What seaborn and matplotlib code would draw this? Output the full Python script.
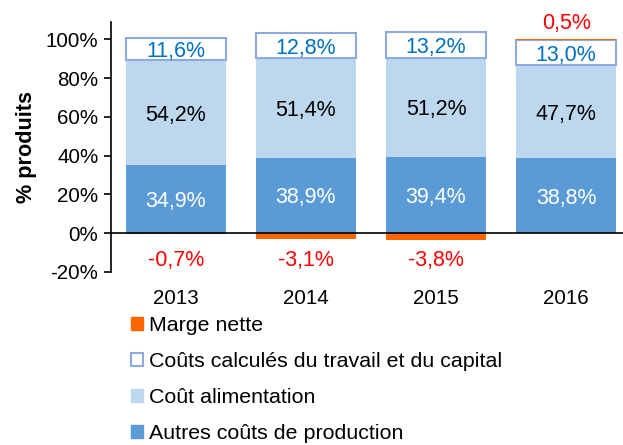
import matplotlib
matplotlib.use("Agg")
import matplotlib.pyplot as plt
from matplotlib.patches import Patch
import pandas as pd
import seaborn as sns

years = ["2013", "2014", "2015", "2016"]
autres = [34.9, 38.9, 39.4, 38.8]
alimentation = [54.2, 51.4, 51.2, 47.7]
calcules = [11.6, 12.8, 13.2, 13.0]
marge = [-0.7, -3.1, -3.8, 0.5]

c_autres = "#5B9BD5"
c_alim = "#BDD7EE"
c_box = "#8EA9DB"
c_marge = "#FF6600"

def fmt(v):
    return f"{v:.1f}%".replace(".", ",")

df = pd.DataFrame({"Année": years, "autres": autres, "alim": alimentation,
                   "calc": calcules, "marge": marge})
df["bot_alim"] = df["autres"]
df["bot_calc"] = df["autres"] + df["alim"]
# positive margin sits on top, negative margin hangs below zero
df["bot_marge"] = [b if m > 0 else 0 for b, m in zip(df["bot_calc"] + df["calc"], df["marge"])]

sns.set_style("white")
plt.rcParams["font.family"] = ["Liberation Sans", "DejaVu Sans"]
plt.rcParams.update({"text.color": "black", "axes.labelcolor": "black",
                     "xtick.color": "black", "ytick.color": "black"})

fig = plt.figure(figsize=(6.23, 4.45), dpi=100)
ax = fig.add_axes([0.178, 0.389, 0.835, 0.5618])

w = 0.77
sns.barplot(data=df, x="Année", y="autres", order=years, color=c_autres,
            width=w, saturation=1, ax=ax, linewidth=0)
sns.barplot(data=df, x="Année", y="alim", order=years, color=c_alim,
            width=w, saturation=1, ax=ax, linewidth=0, bottom=df["bot_alim"])
sns.barplot(data=df, x="Année", y="calc", order=years, color="white",
            width=w, saturation=1, ax=ax, linewidth=1.5, edgecolor=c_box,
            bottom=df["bot_calc"])
sns.barplot(data=df, x="Année", y="marge", order=years, color=c_marge,
            width=w, saturation=1, ax=ax, linewidth=0, bottom=df["bot_marge"])

fs_bar = 15.5
fs_tick = 14.8
for i in range(len(years)):
    ax.text(i, autres[i] / 2, fmt(autres[i]), ha="center", va="center_baseline",
            color="white", fontsize=fs_bar)
    ax.text(i, df["bot_alim"][i] + alimentation[i] / 2, fmt(alimentation[i]),
            ha="center", va="center_baseline", color="black", fontsize=fs_bar)
    ax.text(i, df["bot_calc"][i] + calcules[i] / 2, fmt(calcules[i]),
            ha="center", va="center_baseline", color="#0070C0", fontsize=fs_bar)
    ym = -13 if marge[i] < 0 else 109.5
    ax.text(i, ym, fmt(marge[i]), ha="center", va="center_baseline", color="red",
            fontsize=fs_bar, clip_on=False)

ax.axhline(0, color="black", lw=1.2)
ax.set_xlim(-0.5, 3.5)
ax.set_ylim(-20, 109)
ax.set_yticks([-20, 0, 20, 40, 60, 80, 100])
ax.set_yticklabels([f"{t}%" for t in [-20, 0, 20, 40, 60, 80, 100]])
ax.tick_params(axis="y", left=True, length=5, width=1.2, labelsize=fs_tick, pad=4)
ax.tick_params(axis="x", bottom=False, labelsize=fs_tick, pad=9)
ax.set_xlabel("")
ax.set_ylabel("% produits", fontsize=15.6, fontweight="bold", labelpad=6)
for s in ["top", "right", "bottom"]:
    ax.spines[s].set_visible(False)
ax.spines["left"].set_color("black")
ax.spines["left"].set_linewidth(1.2)

handles = [
    Patch(facecolor=c_marge, edgecolor=c_marge, label="Marge nette"),
    Patch(facecolor="white", edgecolor=c_box, linewidth=1.5,
          label="Coûts calculés du travail et du capital"),
    Patch(facecolor=c_alim, edgecolor=c_alim, label="Coût alimentation"),
    Patch(facecolor=c_autres, edgecolor=c_autres, label="Autres coûts de production"),
]
fig.legend(handles=handles, loc="upper left", bbox_to_anchor=(0.21, 0.29),
           frameon=False, fontsize=15.4, handlelength=0.55, handleheight=0.55,
           handletextpad=0.3, labelspacing=0.8, borderaxespad=0, borderpad=0)

fig.savefig("out.png", dpi=100)
